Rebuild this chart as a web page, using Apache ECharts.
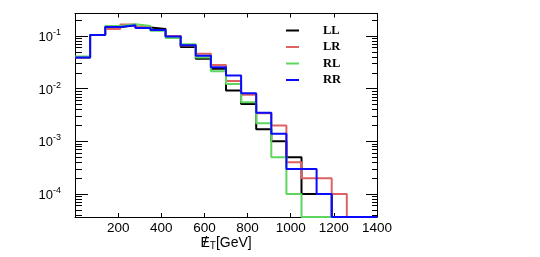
<!DOCTYPE html>
<html><head><meta charset="utf-8">
<script src="https://cdn.jsdelivr.net/npm/echarts@6/dist/echarts.min.js"></script>
<style>html,body{margin:0;padding:0;background:#fff}#c{width:540px;height:257px}</style>
</head><body><div id="c"></div>
<script>
// bin lower edges (GeV), bin width 70
const binLow = [0,70,140,210,280,350,420,490,560,630,700,770,840,910,980,1050,1120,1190,1260,1330];
const xMaxEdge = 1400;
const seriesNames = ['LL','LR','RL','RR'];
const LL = [0.039,0.104,0.148,0.160,0.145,0.136,0.100,0.062,0.037,0.024,0.0092,0.0051,0.0017,0.0010,0.0005,0.0001,0.0001,0,0,0];
const LR = [0.039,0.104,0.136,0.165,0.150,0.130,0.100,0.066,0.046,0.028,0.0140,0.0077,0.0034,0.0020,0.0004,0.0002,0.0002,0.0001,0,0];
const RL = [0.041,0.104,0.155,0.167,0.155,0.126,0.092,0.070,0.039,0.0215,0.0123,0.0055,0.0022,0.0005,0.0001,0,0,0,0,0];
const RR = [0.039,0.104,0.148,0.160,0.142,0.130,0.098,0.067,0.042,0.0255,0.0178,0.0082,0.0035,0.0014,0.0003,0.0003,0.0001,0,0,0];
const xTickLabels = [200,400,600,800,1000,1200,1400];
const yDecades = [-4,-3,-2,-1];

const colors = ['#000000','#de6262','#5ed65e','#0a0aff'];
const yMin = -4.436, yMax = -0.573;
const lg = v => v > 0 ? Math.log10(v) : yMin;
const minorVals = [];
for (let d = -5; d <= -1; d++) for (let k = 2; k <= 9; k++) {
  const v = Math.log10(k) + d; if (v > yMin && v < yMax) minorVals.push(v);
}
function stepData(arr){
  const pts = binLow.map((x,i)=>[x, lg(arr[i])]);
  pts.push([xMaxEdge, lg(arr[arr.length-1])]);
  return pts;
}
const allData = [LL,LR,RL,RR];
const fontS = 'Liberation Sans';
const chart = echarts.init(document.getElementById('c'), null, {renderer:'canvas'});
const axLine = {show:true, lineStyle:{color:'#000', width:1}};
chart.setOption({
  animation:false,
  grid:{left:75, right:163, top:13.5, bottom:40, containLabel:false},
  legend:{
    orient:'vertical', left:286, top:24, padding:0, itemWidth:13, itemHeight:2, icon:'rect', itemGap:3.5,
    data: seriesNames,
    textStyle:{fontFamily:'Liberation Serif', fontWeight:'bold', fontSize:12.5, color:'#000', padding:[0,0,0,19]}
  },
  graphic:[
    {type:'text', x:200.5, y:243, silent:true,
     style:{text:'{e|E}{t|T}[GeV]', fill:'#000', font:'14px "Liberation Sans"', align:'left', verticalAlign:'middle',
       rich:{e:{fontFamily:fontS, fontSize:14, fill:'#000'},
             t:{fontFamily:fontS, fontSize:10, fill:'#000', padding:[7,0,0,0]}}}},
    {type:'text', x:205.2, y:242.5, silent:true,
     style:{text:'/', fill:'#000', font:'15px "Liberation Sans"', align:'center', verticalAlign:'middle'}}
  ],
  xAxis:[
    {type:'value', min:0, max:1400, position:'bottom', axisLine:axLine,
     axisTick:{show:true, inside:true, length:4, customValues:xTickLabels, lineStyle:{color:'#000'}},
     axisLabel:{show:true, customValues:xTickLabels, margin:4, fontFamily:fontS, fontSize:13.5, color:'#000',
       formatter: v => String(v)},
     splitLine:{show:false}
    },
    {type:'value', min:0, max:1400, position:'top', axisLine:axLine,
     axisTick:{show:true, inside:true, length:4, customValues:xTickLabels, lineStyle:{color:'#000'}},
     axisLabel:{show:false}, splitLine:{show:false}}
  ],
  yAxis:[
    {type:'value', min:yMin, max:yMax, position:'left', axisLine:axLine,
     axisTick:{show:true, inside:true, length:13, customValues:yDecades, lineStyle:{color:'#000'}},
     axisLabel:{show:true, customValues:yDecades, margin:14,
       formatter: v => '{b|10}{s|' + Math.round(v) + '}',
       rich:{b:{fontFamily:fontS, fontSize:13, color:'#000', verticalAlign:'bottom', lineHeight:16},
             s:{fontFamily:fontS, fontSize:9, color:'#000', verticalAlign:'bottom', lineHeight:16, padding:[0,0,7,0]}}},
     splitLine:{show:false}},
    {type:'value', min:yMin, max:yMax, position:'left', axisLine:{show:false},
     axisTick:{show:true, inside:true, length:7, customValues:minorVals, lineStyle:{color:'#000'}},
     axisLabel:{show:false}, splitLine:{show:false}},
    {type:'value', min:yMin, max:yMax, position:'right', axisLine:axLine,
     axisTick:{show:true, inside:true, length:11, customValues:yDecades, lineStyle:{color:'#000'}},
     axisLabel:{show:false}, splitLine:{show:false}},
    {type:'value', min:yMin, max:yMax, position:'right', axisLine:{show:false},
     axisTick:{show:true, inside:true, length:5, customValues:minorVals, lineStyle:{color:'#000'}},
     axisLabel:{show:false}, splitLine:{show:false}}
  ],
  series: seriesNames.map((n,i)=>({
    name:n, type:'line', step:'end', xAxisIndex:0, yAxisIndex:0,
    showSymbol:false, symbol:'none', color:colors[i],
    lineStyle:{color:colors[i], width:2}, data: stepData(allData[i]), z:2+i
  }))
});
</script></body></html>
